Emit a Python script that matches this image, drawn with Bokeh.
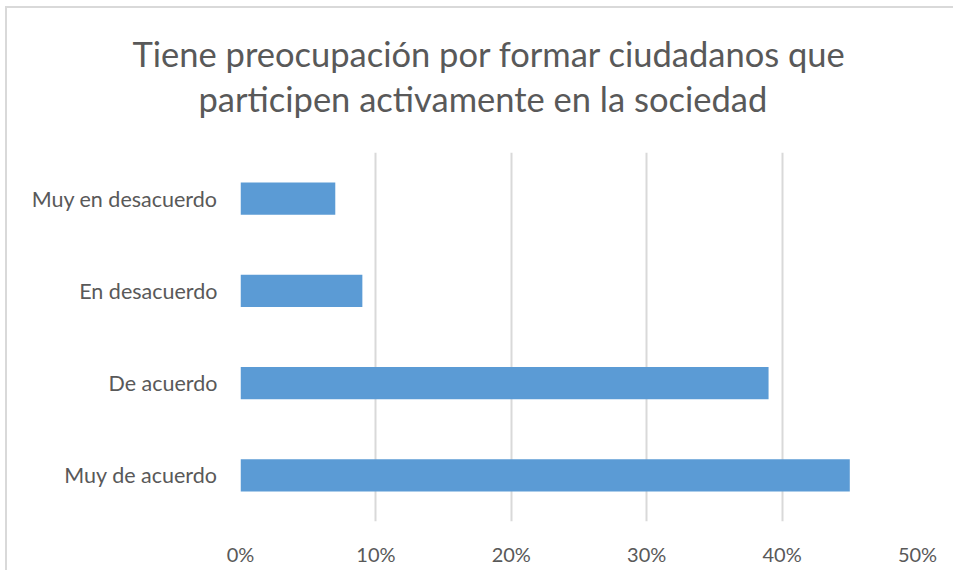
from bokeh.plotting import figure
from bokeh.models import FactorRange, Range1d, FixedTicker, NumeralTickFormatter, Title, ColumnDataSource
from bokeh.embed import file_html
from bokeh.resources import INLINE

title_lines = ["Tiene preocupación por formar ciudadanos que", "participen activamente en la sociedad"]
categories = ["Muy de acuerdo", "De acuerdo", "En desacuerdo", "Muy en desacuerdo"]
values = [0.45, 0.39, 0.09, 0.07]
x_ticks = [0, 0.1, 0.2, 0.3, 0.4, 0.5]

FONT = "Lato"
TXT = "#595959"

src = ColumnDataSource(dict(cat=categories, val=values))

p = figure(width=946, height=562, output_backend="svg", toolbar_location=None, title=None,
           y_range=FactorRange(*categories, range_padding=0), x_range=Range1d(0, 0.5),
           frame_width=677, frame_height=369,
           min_border_left=233, min_border_right=36, min_border_top=144, min_border_bottom=49)
p.hbar(y="cat", right="val", left=0, height=0.35, source=src, color="#5B9BD5", line_color=None)

p.outline_line_color = None
p.background_fill_color = "white"
p.border_fill_color = "white"
p.margin = (6, 0, 0, 5)
p.styles = {"border-left": "2px solid #D9D9D9", "border-top": "2px solid #D9D9D9"}

p.xaxis.ticker = FixedTicker(ticks=x_ticks)
p.xaxis.formatter = NumeralTickFormatter(format="0%")
p.xaxis.axis_line_color = None
p.xaxis.major_tick_line_color = None
p.xaxis.minor_tick_line_color = None
p.xaxis.major_tick_out = 0
p.xaxis.major_tick_in = 0
p.xaxis.major_label_standoff = 20
p.xaxis.major_label_text_font = FONT
p.xaxis.major_label_text_font_size = "20px"
p.xaxis.major_label_text_color = TXT

p.yaxis.axis_line_color = None
p.yaxis.major_tick_line_color = None
p.yaxis.minor_tick_line_color = None
p.yaxis.major_tick_out = 0
p.yaxis.major_tick_in = 0
p.yaxis.major_label_standoff = 23
p.yaxis.major_label_text_font = FONT
p.yaxis.major_label_text_font_size = "21.5px"
p.yaxis.major_label_text_color = TXT

p.ygrid.grid_line_color = None
p.xgrid.grid_line_color = "#D9D9D9"
p.xgrid.grid_line_width = 2

# stacked outward from the plot: spacer, second line, first line
p.add_layout(Title(text=" ", standoff=29, text_font=FONT, text_font_size="1px"), "above")
p.add_layout(Title(text=title_lines[1], align="left", offset=-42, standoff=4,
                   text_font=FONT, text_font_size="34.5px", text_font_style="normal",
                   text_color=TXT), "above")
p.add_layout(Title(text=title_lines[0], align="left", offset=-108, standoff=0,
                   text_font=FONT, text_font_size="34.5px", text_font_style="normal",
                   text_color=TXT), "above")

open("out.html", "w").write(file_html(p, INLINE))
